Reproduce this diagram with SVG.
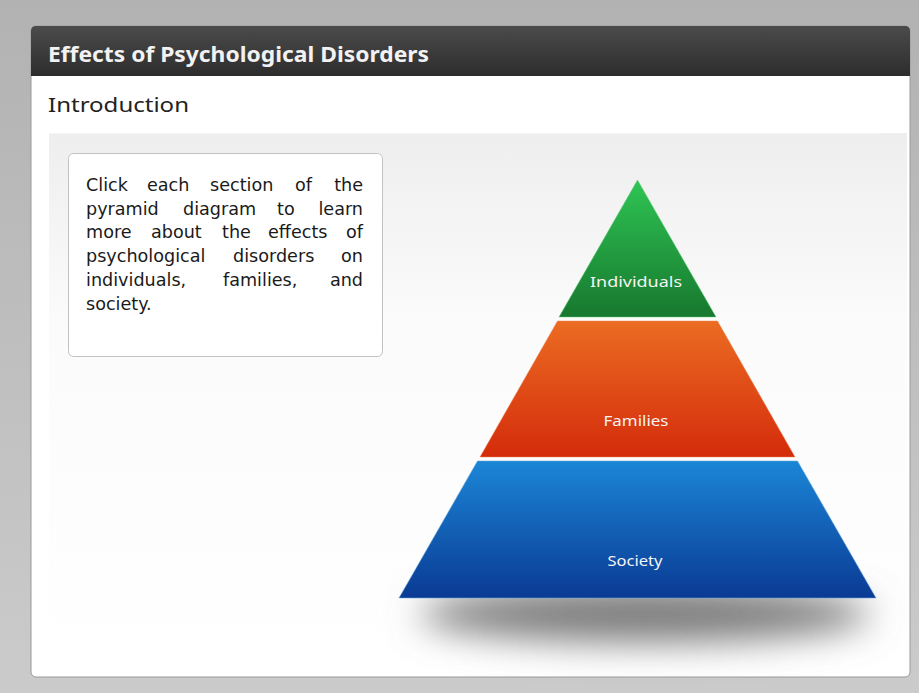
<svg xmlns="http://www.w3.org/2000/svg" width="919" height="693" viewBox="0 0 919 693">
<style>
.sans{font-family:"Noto Sans","Open Sans","DejaVu Sans",sans-serif}
.body{font-family:"DejaVu Sans","Noto Sans",sans-serif;font-size:17.6px;fill:#1a1a1a}
.end{text-anchor:end}
.lbl{font-size:14px;fill:#f4f4f4;text-anchor:middle}
</style>
<defs>
<linearGradient id="bg" x1="0" y1="0" x2="0" y2="1"><stop offset="0" stop-color="#b2b2b2"/><stop offset="1" stop-color="#cbcbcb"/></linearGradient>
<linearGradient id="hdr" x1="0" y1="0" x2="0" y2="1"><stop offset="0" stop-color="#4b4b4b"/><stop offset="1" stop-color="#2d2d2d"/></linearGradient>
<linearGradient id="pan" x1="0" y1="0" x2="0" y2="1"><stop offset="0" stop-color="#eeeeee"/><stop offset="0.35" stop-color="#fbfbfb"/><stop offset="1" stop-color="#ffffff"/></linearGradient>
<linearGradient id="gG" x1="0" y1="0" x2="0" y2="1"><stop offset="0" stop-color="#2fc454"/><stop offset="1" stop-color="#17782e"/></linearGradient>
<linearGradient id="gO" x1="0" y1="0" x2="0" y2="1"><stop offset="0" stop-color="#eb6c22"/><stop offset="1" stop-color="#d42c0b"/></linearGradient>
<linearGradient id="gB" x1="0" y1="0" x2="0" y2="1"><stop offset="0" stop-color="#1b86d6"/><stop offset="1" stop-color="#0a3a94"/></linearGradient>
<filter id="blur" x="-50%" y="-100%" width="200%" height="300%"><feGaussianBlur stdDeviation="18"/></filter>
</defs>
<rect x="0" y="0" width="919" height="693" fill="url(#bg)"/>
<g id="page">
<rect x="31" y="26" width="879" height="651" rx="5" fill="#ffffff" stroke="#9a9a9a" stroke-width="1"/>
<path d="M31,76 V31 Q31,26 36,26 H905 Q910,26 910,31 V76 Z" fill="url(#hdr)"/>
<text class="sans" x="48" y="62" font-size="21" font-weight="bold" fill="#f2f2f2" textLength="381" lengthAdjust="spacingAndGlyphs">Effects of Psychological Disorders</text>
<text class="sans" x="48" y="112" font-size="20.5" fill="#222222" textLength="141" lengthAdjust="spacingAndGlyphs">Introduction</text>
<rect x="49" y="133" width="858" height="542" fill="url(#pan)"/>
<line x1="49" y1="133.5" x2="880" y2="133.5" stroke="#f6f6f6"/>
</g>
<g id="shadow">
<ellipse cx="645" cy="614" rx="225" ry="28" fill="#7a7a7a" filter="url(#blur)"/>
</g>
<g id="intro-box">
<rect x="68.5" y="153.5" width="314" height="203" rx="5" fill="#ffffff" stroke="#c2c2c2"/>
<g class="body">
<text y="191"><tspan x="86">Click</tspan><tspan x="147">each</tspan><tspan x="210">section</tspan><tspan x="295">of</tspan><tspan x="363" class="end">the</tspan></text>
<text y="215"><tspan x="86">pyramid</tspan><tspan x="183">diagram</tspan><tspan x="277">to</tspan><tspan x="363" class="end">learn</tspan></text>
<text y="238"><tspan x="86">more</tspan><tspan x="151">about</tspan><tspan x="222">the</tspan><tspan x="268">effects</tspan><tspan x="363" class="end">of</tspan></text>
<text y="262"><tspan x="86">psychological</tspan><tspan x="233">disorders</tspan><tspan x="363" class="end">on</tspan></text>
<text y="286"><tspan x="86">individuals,</tspan><tspan x="223">families,</tspan><tspan x="363" class="end">and</tspan></text>
<text y="310" x="86">society.</text>
</g>
</g>
<g id="connectors"/>
<g id="individuals">
<polygon points="637.5,180 716,317 559,317" fill="url(#gG)" stroke="#5fcf78" stroke-width="0.8" stroke-opacity="0.6"/>
<text class="sans lbl" x="636" y="287" textLength="92" lengthAdjust="spacingAndGlyphs">Individuals</text>
</g>
<g id="families">
<polygon points="557.5,321 717.5,321 795,457 480,457" fill="url(#gO)" stroke="#f08a5a" stroke-width="0.8" stroke-opacity="0.6"/>
<text class="sans lbl" x="636" y="426" textLength="65" lengthAdjust="spacingAndGlyphs">Families</text>
</g>
<g id="society">
<polygon points="477.5,461 797.5,461 876,598 399,598" fill="url(#gB)" stroke="#6aa8e0" stroke-width="0.8" stroke-opacity="0.7"/>
<text class="sans lbl" x="635" y="566" textLength="55" lengthAdjust="spacingAndGlyphs">Society</text>
</g>
</svg>
